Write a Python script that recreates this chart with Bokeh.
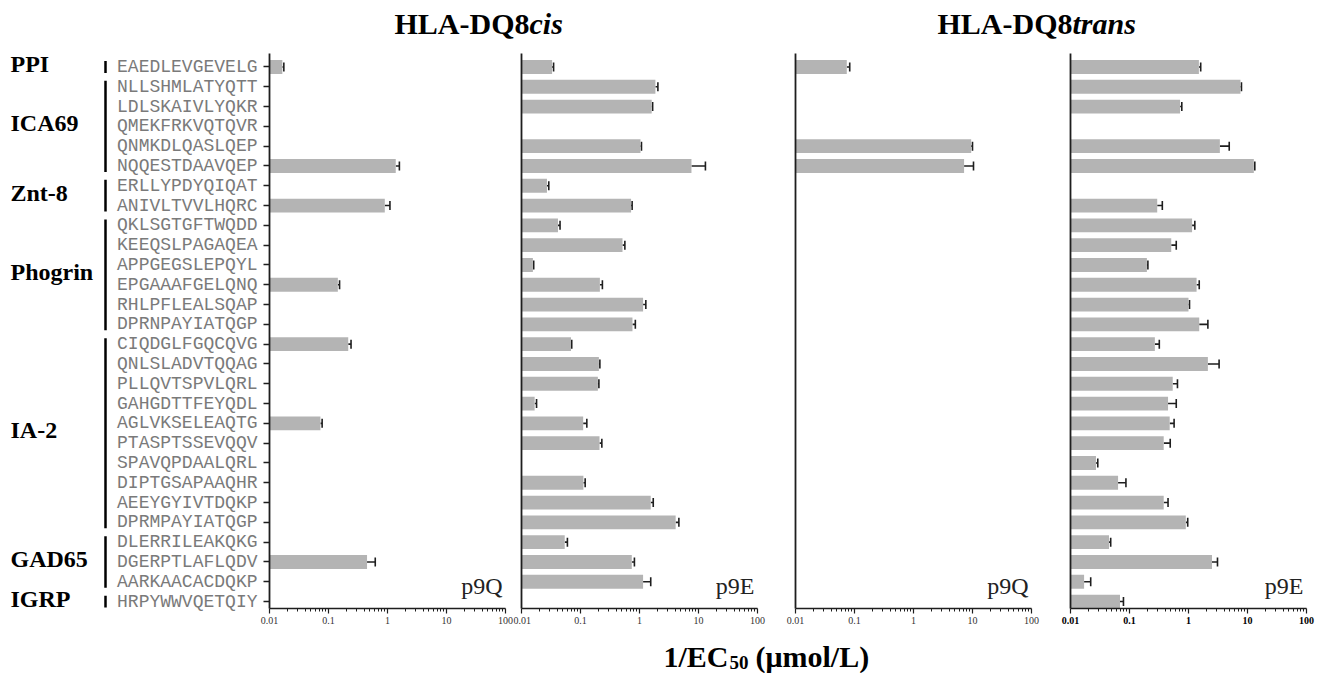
from bokeh.plotting import figure
from bokeh.layouts import column, row
from bokeh.models import Range1d, FixedTicker, Whisker, TeeHead, ColumnDataSource, CustomJSTickFormatter
from bokeh.embed import file_html
from bokeh.resources import INLINE
from bokeh.core.properties import value

# ---------------- data ----------------
sequences = [
    "EAEDLEVGEVELG", "NLLSHMLATYQTT", "LDLSKAIVLYQKR", "QMEKFRKVQTQVR",
    "QNMKDLQASLQEP", "NQQESTDAAVQEP", "ERLLYPDYQIQAT", "ANIVLTVVLHQRC",
    "QKLSGTGFTWQDD", "KEEQSLPAGAQEA", "APPGEGSLEPQYL", "EPGAAAFGELQNQ",
    "RHLPFLEALSQAP", "DPRNPAYIATQGP", "CIQDGLFGQCQVG", "QNLSLADVTQQAG",
    "PLLQVTSPVLQRL", "GAHGDTTFEYQDL", "AGLVKSELEAQTG", "PTASPTSSEVQQV",
    "SPAVQPDAALQRL", "DIPTGSAPAAQHR", "AEEYGYIVTDQKP", "DPRMPAYIATQGP",
    "DLERRILEAKQKG", "DGERPTLAFLQDV", "AARKAACACDQKP", "HRPYWWVQETQIY",
]
group_names = ["PPI", "ICA69", "Znt-8", "Phogrin", "IA-2", "GAD65", "IGRP"]
group_sizes = [1, 5, 2, 6, 10, 3, 1]

x_ticks = [0.01, 0.1, 1, 10, 100]
x_tick_labels = ["0.01", "0.1", "1", "10", "100"]
panel_tags = ["p9Q", "p9E", "p9Q", "p9E"]

N_ = None
cis_p9Q = [0.0165, N_, N_, N_, N_, 1.38, N_, 0.90, N_, N_, N_, 0.144, N_, N_,
           0.216, N_, N_, N_, 0.073, N_, N_, N_, N_, N_, N_, 0.45, N_, N_]
cis_p9Q_err = [0.001, N_, N_, N_, N_, 0.21, N_, 0.20, N_, N_, N_, 0.010, N_, N_,
               0.025, N_, N_, N_, 0.005, N_, N_, N_, N_, N_, N_, 0.17, N_, N_]

cis_p9E = [0.033, 1.86, 1.61, N_, 1.04, 7.6, 0.027, 0.72, 0.0415, 0.515, 0.0156, 0.213, 1.15, 0.76,
           0.069, 0.205, 0.197, 0.0167, 0.111, 0.21, N_, 0.112, 1.55, 4.1, 0.054, 0.74, 1.15, N_]
cis_p9E_err = [0.002, 0.19, 0.06, N_, 0.04, 5.5, 0.002, 0.03, 0.0035, 0.05, 0.0005, 0.022, 0.13, 0.09,
               0.002, 0.008, 0.008, 0.0013, 0.017, 0.02, N_, 0.008, 0.16, 0.55, 0.006, 0.08, 0.40, N_]

trans_p9Q = [0.074, N_, N_, N_, 9.5, 7.2, N_, N_, N_, N_, N_, N_, N_, N_,
             N_, N_, N_, N_, N_, N_, N_, N_, N_, N_, N_, N_, N_, N_]
trans_p9Q_err = [0.009, N_, N_, N_, 0.5, 3.2, N_, N_, N_, N_, N_, N_, N_, N_,
                 N_, N_, N_, N_, N_, N_, N_, N_, N_, N_, N_, N_, N_, N_]

trans_p9E = [1.5, 7.6, 0.72, N_, 3.4, 12.8, N_, 0.295, 1.15, 0.51, 0.197, 1.37, 1.0, 1.52,
             0.269, 2.13, 0.54, 0.45, 0.48, 0.38, 0.027, 0.064, 0.38, 0.90, 0.045, 2.5, 0.017, 0.069]
trans_p9E_err = [0.11, 0.3, 0.05, N_, 1.5, 0.5, N_, 0.065, 0.13, 0.11, 0.008, 0.15, 0.04, 0.61,
                 0.051, 1.17, 0.11, 0.17, 0.09, 0.11, 0.002, 0.023, 0.07, 0.07, 0.003, 0.6, 0.005, 0.010]

# ---------------- layout constants ----------------
SERIF = "Liberation Serif"
MONO = "Liberation Mono"
BAR = "#b4b4b4"
INK = "#1e1e1e"
FRAME_W = 236
PANEL_H = 585
TOP_B, BOT_B = 8, 22

N = len(sequences)
rows_idx = list(range(N))
yr = Range1d(N - 1 + 0.35, -0.68)


def style_common(p):
    p.xgrid.visible = False
    p.ygrid.visible = False
    p.outline_line_color = None


def make_panel(vals, errs, tag, bl, br, first=False, bold=False):
    p = figure(width=bl + FRAME_W + br, height=PANEL_H, x_axis_type="log",
               x_range=Range1d(0.01, 100), y_range=yr, output_backend="svg",
               toolbar_location=None, min_border_left=bl, min_border_right=br,
               min_border_top=TOP_B, min_border_bottom=BOT_B, title=None)
    style_common(p)
    ys = [i for i, v in enumerate(vals) if v is not None]
    src = ColumnDataSource(dict(y=ys, v=[vals[i] for i in ys],
                                hi=[vals[i] + errs[i] for i in ys]))
    p.hbar(y="y", left=0.01, right="v", height=0.7, source=src,
           fill_color=BAR, line_color=None)
    p.add_layout(Whisker(source=src, base="y", lower="v", upper="hi", dimension="width",
                         line_color=INK, line_width=1.6, lower_head=None,
                         upper_head=TeeHead(size=9, line_color=INK, line_width=1.6)))
    p.text(x=[100], y=[N - 1 - 0.8], text=[tag], text_align="right",
           text_baseline="middle", x_offset=-3,
           text_font=value(SERIF), text_font_size="24px", text_color="#222222")

    # x axis
    xa = p.xaxis[0]
    xa.ticker = FixedTicker(ticks=x_ticks,
                            minor_ticks=[m * 10.0 ** e for e in range(-2, 2) for m in range(2, 10)])
    xa.formatter = CustomJSTickFormatter(args=dict(vals=x_ticks, labels=x_tick_labels), code="""
        for (let i = 0; i < vals.length; i++) {
            if (Math.abs(vals[i] - tick) <= 1e-9 * Math.max(1, vals[i])) return labels[i];
        }
        return '';
    """)
    xa.axis_line_color = INK
    xa.axis_line_width = 1.5
    xa.major_tick_line_color = INK
    xa.minor_tick_line_color = INK
    xa.major_tick_line_width = 1.2
    xa.minor_tick_line_width = 1.0
    xa.major_tick_in = 0
    xa.major_tick_out = 5
    xa.minor_tick_in = 0
    xa.minor_tick_out = 3
    xa.major_label_standoff = 3
    xa.major_label_text_font = SERIF
    xa.major_label_text_font_size = "10px"
    xa.major_label_text_color = "#000000" if bold else "#333333"
    xa.major_label_text_font_style = "bold" if bold else "normal"

    # y axis
    ya = p.yaxis[0]
    ya.axis_line_color = INK
    ya.axis_line_width = 1.8
    if first:
        ya.ticker = FixedTicker(ticks=rows_idx)
        ya.formatter = CustomJSTickFormatter(args=dict(labels=sequences),
                                             code="return labels[Math.round(tick)] || '';")
        ya.major_tick_in = 0
        ya.major_tick_out = 6
        ya.major_tick_line_color = INK
        ya.major_tick_line_width = 1.5
        ya.major_label_standoff = 6
        ya.major_label_text_font = MONO
        ya.major_label_text_font_size = "18px"
        ya.major_label_text_color = "#7a7a7a"
    else:
        ya.ticker = FixedTicker(ticks=[])
        ya.major_tick_out = 0
        ya.major_tick_in = 0
        ya.major_label_standoff = 0
    ya.minor_tick_line_color = None
    return p


p1 = make_panel(cis_p9Q, cis_p9Q_err, panel_tags[0], 160, 8, first=True)
p2 = make_panel(cis_p9E, cis_p9E_err, panel_tags[1], 8, 19)
p3 = make_panel(trans_p9Q, trans_p9Q_err, panel_tags[2], 19, 19)
p4 = make_panel(trans_p9E, trans_p9E_err, panel_tags[3], 20, 18, bold=True)

# ---------------- group label column ----------------
F0_W = 109
f0 = figure(width=F0_W, height=PANEL_H, x_range=Range1d(0, F0_W), y_range=yr,
            output_backend="svg", toolbar_location=None, min_border_left=0,
            min_border_right=0, min_border_top=TOP_B, min_border_bottom=BOT_B, title=None)
style_common(f0)
f0.axis.visible = False
starts, ends = [], []
s = 0
for n in group_sizes:
    starts.append(s)
    ends.append(s + n - 1)
    s += n
br_x = F0_W - 4
f0.segment(x0=[br_x] * len(starts), x1=[br_x] * len(starts),
           y0=[a - 0.3 for a in starts], y1=[b + 0.3 for b in ends],
           line_color="#000000", line_width=2.5)
f0.text(x=[10] * len(starts), y=[(a + b) / 2 - 0.15 for a, b in zip(starts, ends)], text=group_names,
        text_align="left", text_baseline="middle", text_font=value(SERIF),
        text_font_style="bold", text_font_size="24px", text_color="#000000")

TOTAL_W = F0_W + sum(pp.width for pp in (p1, p2, p3, p4))

# ---------------- title strip ----------------
TH = 45
ft = figure(width=TOTAL_W, height=TH, x_range=Range1d(0, TOTAL_W), y_range=Range1d(TH, 0),
            output_backend="svg", toolbar_location=None, min_border=0, title=None)
style_common(ft)
ft.axis.visible = False
ft.text(x=[529, 1072], y=[23, 23], text=["HLA-DQ8", "HLA-DQ8"], text_align="right",
        text_baseline="middle", text_font=value(SERIF), text_font_style="bold",
        text_font_size="30px", text_color="#000000")
ft.text(x=[529, 1072], y=[23, 23], text=["cis", "trans"], text_align="left",
        text_baseline="middle", text_font=value(SERIF), text_font_style="bold italic",
        text_font_size="30px", text_color="#000000")

# ---------------- x label strip ----------------
BH = 43
fb = figure(width=TOTAL_W, height=BH, x_range=Range1d(0, TOTAL_W), y_range=Range1d(BH, 0),
            output_backend="svg", toolbar_location=None, min_border=0, title=None)
style_common(fb)
fb.axis.visible = False
fb.text(x=[728], y=[26], text=["1/EC"], text_align="right", text_baseline="middle",
        text_font=value(SERIF), text_font_style="bold", text_font_size="30px", text_color="#000000")
fb.text(x=[729], y=[32], text=["50"], text_align="left", text_baseline="middle",
        text_font=value(SERIF), text_font_style="bold", text_font_size="19px", text_color="#000000")
fb.text(x=[755], y=[26], text=["(\u03bcmol/L)"], text_align="left", text_baseline="middle",
        text_font=value(SERIF), text_font_style="bold", text_font_size="30px", text_color="#000000")

layout = column(ft, row(f0, p1, p2, p3, p4), fb)

open("out.html", "w").write(file_html(layout, INLINE))
